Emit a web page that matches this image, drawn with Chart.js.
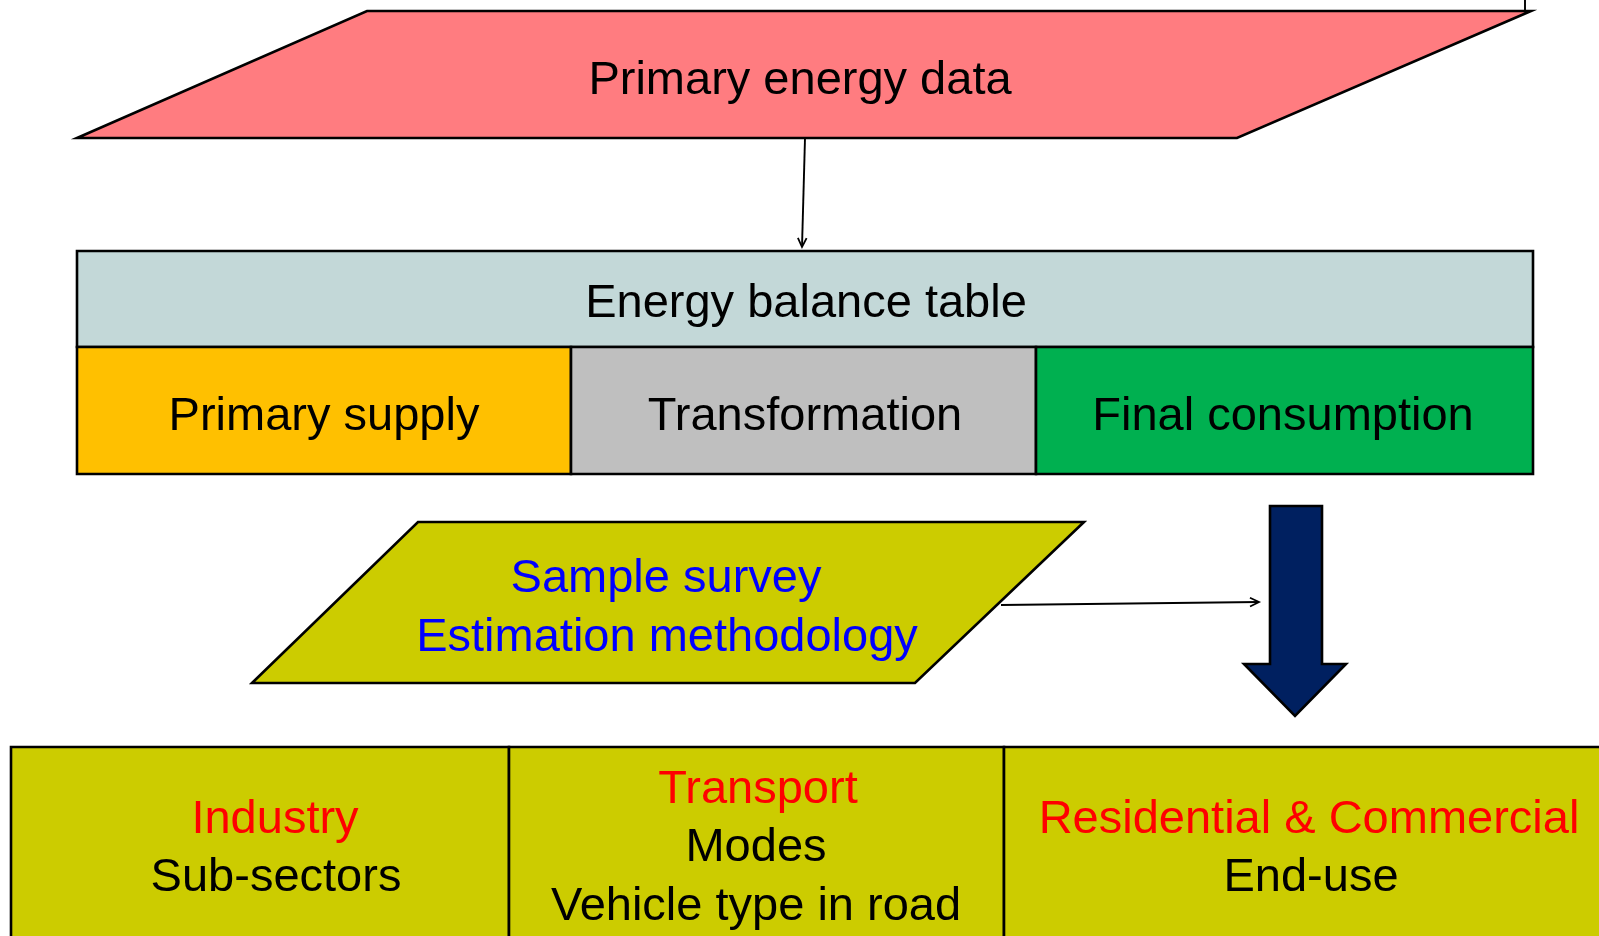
<!DOCTYPE html>
<html>
<head>
<meta charset="utf-8">
<script src="https://cdn.jsdelivr.net/npm/chart.js@4.4.1/dist/chart.umd.min.js"></script>
<style>
  html, body { margin: 0; padding: 0; background: #fff; overflow: hidden; }
  #wrap { width: 1599px; height: 936px; position: relative; }
</style>
</head>
<body>
<div id="wrap"><canvas id="flow"></canvas></div>
<script>
// diagram units = slide pixels, x to the right, y downward
const primaryEnergy = [[367, 11], [1531, 11], [1237, 138], [77, 138]];
const balanceHead = [[77, 251], [1533, 251], [1533, 347], [77, 347]];
const balanceSupply = [[77, 347], [571, 347], [571, 474], [77, 474]];
const balanceTransform = [[571, 347], [1036, 347], [1036, 474], [571, 474]];
const balanceFinal = [[1036, 347], [1533, 347], [1533, 474], [1036, 474]];
const surveyBox = [[418, 522], [1084, 522], [915, 683], [252, 683]];
const bigArrow = [[1270, 506], [1322, 506], [1322, 664], [1346, 664], [1295, 716], [1244, 664], [1270, 664]];
const sectorIndustry = [[11, 747], [509, 747], [509, 980], [11, 980]];
const sectorTransport = [[509, 747], [1004, 747], [1004, 980], [509, 980]];
const sectorResidential = [[1004, 747], [1640, 747], [1640, 980], [1004, 980]];

const shapes = [primaryEnergy, balanceHead, balanceSupply, balanceTransform, balanceFinal,
                surveyBox, bigArrow, sectorIndustry, sectorTransport, sectorResidential];
const shapeFill = ['#FF7C80', '#C3D8D8', '#FFC000', '#BFBFBF', '#00B050',
                   '#CCCC00', '#002060', '#CCCC00', '#CCCC00', '#CCCC00'];

// connectors
const feedLine = [{x: 1525, y: -2}, {x: 1525, y: 11}];
const downLink = [{x: 805, y: 138}, {x: 802, y: 247}];
const surveyLink = [{x: 1001, y: 605}, {x: 1259, y: 602}];

// text
const labelText = ['Primary energy data', 'Energy balance table', 'Primary supply', 'Transformation',
  'Final consumption', 'Sample survey', 'Estimation methodology', 'Industry', 'Sub-sectors',
  'Transport', 'Modes', 'Vehicle type in road', 'Residential & Commercial', 'End-use'];
const labelX = [800, 806, 324, 805, 1283, 666, 667, 275, 276, 758, 756, 756, 1309, 1311];
const labelY = [94, 317, 430, 430, 430, 592, 651, 833, 891, 803, 861, 920, 833, 891];
const labelColor = ['#000', '#000', '#000', '#000', '#000', '#0000FF', '#0000FF', '#FF0000', '#000',
  '#FF0000', '#000', '#000', '#FF0000', '#000'];

function toPx(chart, x, y) {
  return [chart.scales.x.getPixelForValue(x), chart.scales.y.getPixelForValue(y)];
}

const diagram = {
  id: 'diagram',
  beforeDatasetsDraw(chart) {
    const ctx = chart.ctx;
    ctx.save();
    shapes.forEach((pts, i) => {
      ctx.beginPath();
      pts.forEach((p, j) => {
        const [px, py] = toPx(chart, p[0], p[1]);
        if (j === 0) ctx.moveTo(px, py); else ctx.lineTo(px, py);
      });
      ctx.closePath();
      ctx.fillStyle = shapeFill[i];
      ctx.fill();
      ctx.lineWidth = 2.6;
      ctx.lineJoin = 'miter';
      ctx.strokeStyle = '#000';
      ctx.stroke();
    });
    ctx.restore();
  },
  afterDatasetsDraw(chart) {
    const ctx = chart.ctx;
    ctx.save();
    // open arrowheads at the end of the thin connectors
    [downLink, surveyLink].forEach(seg => {
      const [x0, y0] = toPx(chart, seg[0].x, seg[0].y);
      const [x1, y1] = toPx(chart, seg[1].x, seg[1].y);
      const a = Math.atan2(y1 - y0, x1 - x0);
      ctx.beginPath();
      ctx.moveTo(x1 - 10 * Math.cos(a - 0.45), y1 - 10 * Math.sin(a - 0.45));
      ctx.lineTo(x1, y1);
      ctx.lineTo(x1 - 10 * Math.cos(a + 0.45), y1 - 10 * Math.sin(a + 0.45));
      ctx.lineWidth = 1.8;
      ctx.strokeStyle = '#000';
      ctx.stroke();
    });
    ctx.font = '47px "Liberation Sans", Arial, sans-serif';
    ctx.textAlign = 'center';
    ctx.textBaseline = 'alphabetic';
    labelText.forEach((t, i) => {
      const [px, py] = toPx(chart, labelX[i], labelY[i]);
      ctx.fillStyle = labelColor[i];
      ctx.fillText(t, px, py);
    });
    ctx.restore();
  }
};

const link = (data) => ({
  data: data, showLine: true, borderColor: '#000', borderWidth: 1.9,
  pointRadius: 0, fill: false, clip: false
});

new Chart(document.getElementById('flow'), {
  type: 'scatter',
  data: { datasets: [link(feedLine), link(downLink), link(surveyLink)] },
  options: {
    responsive: true,
    maintainAspectRatio: false,
    animation: false,
    events: [],
    layout: { padding: 0 },
    plugins: { legend: { display: false }, tooltip: { enabled: false } },
    scales: {
      x: { type: 'linear', min: 0, max: 1599, display: false },
      y: { type: 'linear', min: 0, max: 936, reverse: true, display: false }
    }
  },
  plugins: [diagram]
});
</script>
</body>
</html>
